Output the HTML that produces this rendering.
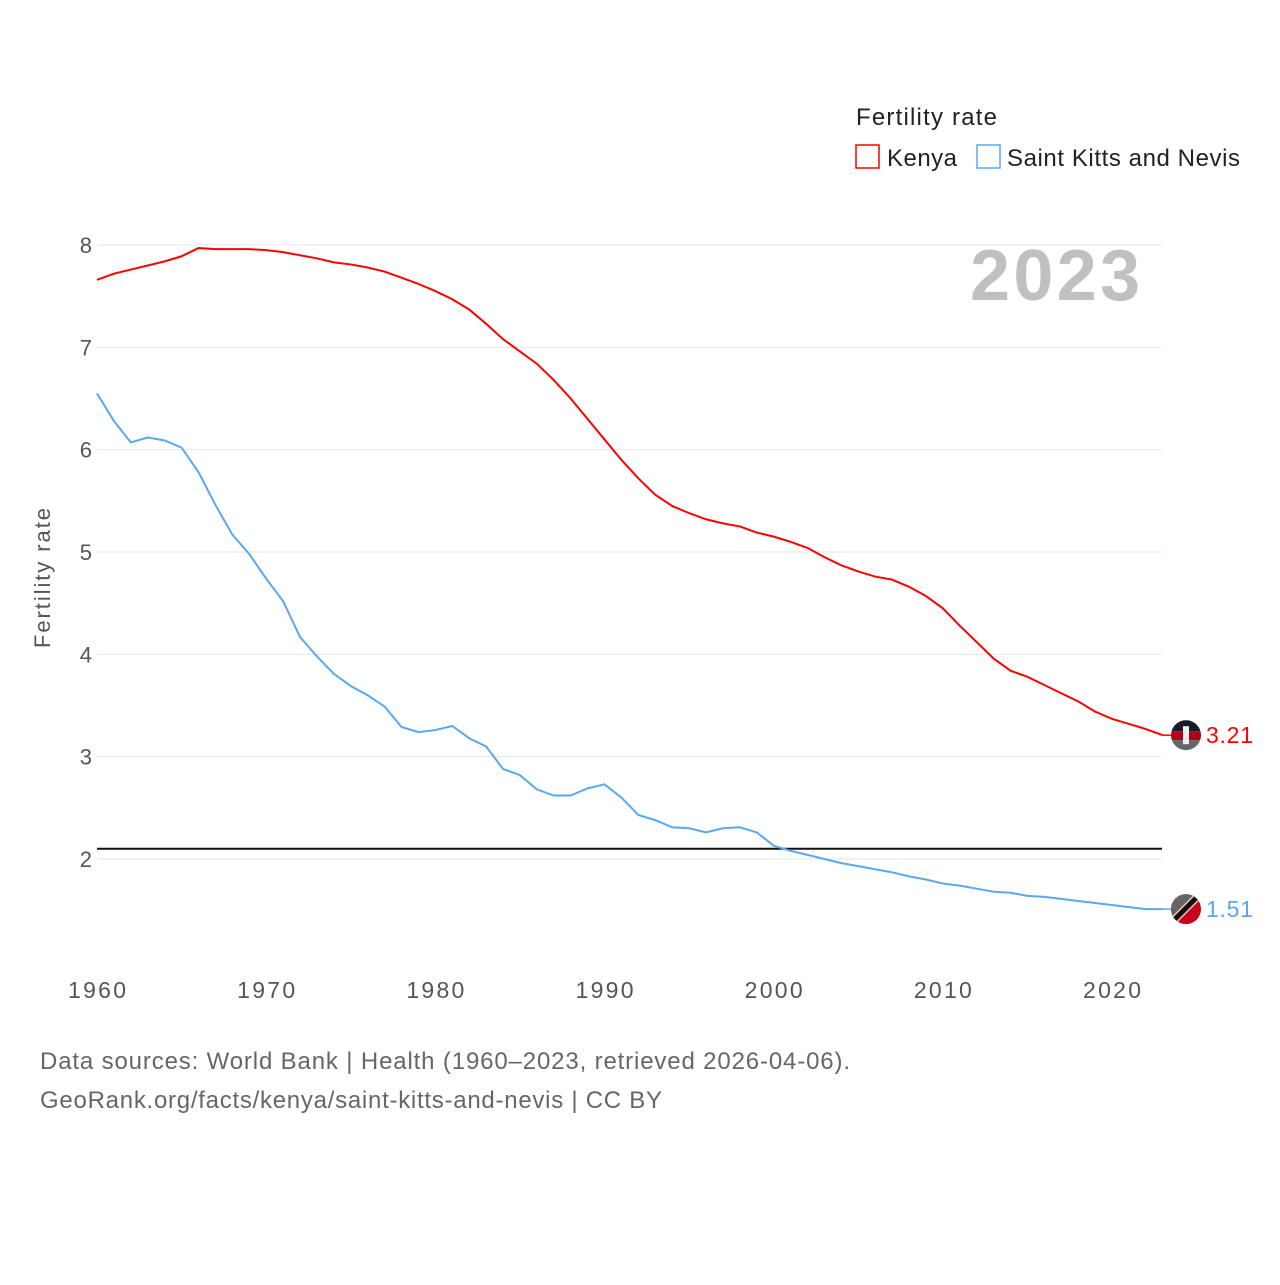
<!DOCTYPE html>
<html><head><meta charset="utf-8"><style>
body{margin:0;background:#fff;width:1280px;height:1280px;overflow:hidden;font-family:"Liberation Sans",sans-serif}
</style></head><body>
<svg id="chart" width="1280" height="1280" xmlns="http://www.w3.org/2000/svg" font-family="Liberation Sans, sans-serif">
<text x="856" y="125" font-size="24" fill="#222" textLength="141">Fertility rate</text>
<g><rect x="856" y="145" width="23" height="23" fill="none" stroke="#f00" stroke-width="1.5"/><text x="887" y="166" font-size="24" fill="#222" textLength="70">Kenya</text></g>
<g><rect x="977" y="145" width="23" height="23" fill="none" stroke="#5aa8f0" stroke-width="1.5"/><text x="1007" y="166" font-size="24" fill="#222" textLength="233">Saint Kitts and Nevis</text></g>
<text x="1140" y="300" font-size="72" font-weight="bold" fill="#c0c0c0" text-anchor="end" textLength="170">2023</text>
<text transform="translate(50,578) rotate(-90)" font-size="22" fill="#555" text-anchor="middle" textLength="140">Fertility rate</text>
<g id="grid"></g><g id="series"></g>
<text x="40" y="1069" font-size="24" fill="#666" textLength="810">Data sources: World Bank | Health (1960–2023, retrieved 2026-04-06).</text>
<text x="40" y="1108" font-size="24" fill="#666" textLength="622">GeoRank.org/facts/kenya/saint-kitts-and-nevis | CC BY</text>
</svg>
<script>
const years=[];for(let y=1960;y<=2023;y++)years.push(y);
const kenya=[7.66,7.72,7.76,7.80,7.84,7.89,7.97,7.96,7.96,7.96,7.95,7.93,7.90,7.87,7.83,7.81,7.78,7.74,7.68,7.62,7.55,7.47,7.37,7.23,7.08,6.96,6.84,6.68,6.50,6.30,6.10,5.90,5.72,5.56,5.45,5.38,5.32,5.28,5.25,5.19,5.15,5.10,5.04,4.95,4.87,4.81,4.76,4.73,4.66,4.57,4.45,4.28,4.12,3.96,3.84,3.78,3.70,3.62,3.54,3.44,3.37,3.32,3.27,3.21];
const skn=[6.55,6.28,6.07,6.12,6.09,6.02,5.78,5.46,5.17,4.98,4.74,4.52,4.17,3.98,3.81,3.69,3.60,3.49,3.29,3.24,3.26,3.30,3.18,3.10,2.88,2.82,2.68,2.62,2.62,2.69,2.73,2.60,2.43,2.38,2.31,2.30,2.26,2.30,2.31,2.26,2.13,2.08,2.04,2.00,1.96,1.93,1.90,1.87,1.83,1.80,1.76,1.74,1.71,1.68,1.67,1.64,1.63,1.61,1.59,1.57,1.55,1.53,1.51,1.51];
const yTicks=[2,3,4,5,6,7,8];
const xTicks=[1960,1970,1980,1990,2000,2010,2020];
const replacement=2.1;
const NS="http://www.w3.org/2000/svg";
const X=y=>97+(y-1960)*(1112-97)/60;
const Y=v=>859-(v-2)*(859-245)/6;
function mk(t,a,p){const e=document.createElementNS(NS,t);for(const k in a)e.setAttribute(k,a[k]);p.appendChild(e);return e;}
const grid=document.getElementById('grid'),ser=document.getElementById('series');
yTicks.forEach(v=>{
 const l=mk('line',{x1:97,x2:1162,y1:Y(v),y2:Y(v),stroke:'#e6e6e6'},grid);
 
 
 const t=mk('text',{x:92,y:Y(v)+8,'font-size':22,fill:'#555','text-anchor':'end'},grid);t.textContent=v;
 
 
});
xTicks.forEach(v=>{
 const t=mk('text',{x:X(v),y:998,'font-size':23,fill:'#555','text-anchor':'middle',textLength:58},grid);t.textContent=v;
 
 
});
const rl=mk('line',{x1:97,x2:1162,y1:Y(replacement),y2:Y(replacement),stroke:'#111','stroke-width':2},ser);


function line(d,c,name){
 const p=mk('polyline',{points:d.map((v,i)=>X(years[i])+','+Y(v)).join(' '),fill:'none',stroke:c,'stroke-width':2},ser);
 
 
 const last=d[d.length-1],ly=Y(last);
 mk('line',{x1:X(2023),x2:1176,y1:ly,y2:ly,stroke:c,'stroke-width':1.5},ser);
 const t=mk('text',{x:1206,y:ly+8,'font-size':23,fill:c,textLength:47},ser);t.textContent=last.toFixed(2);
 
 
 return ly;
}
const ky=line(kenya,'#f00','kenya-line');
const sy=line(skn,'#5aa8f0','saint-kitts-line');
let g=mk('g',{},ser);


mk('clipPath',{id:'c1'},g);mk('circle',{cx:1186,cy:ky,r:15},g.firstChild);
const gk=mk('g',{'clip-path':'url(#c1)'},g);
mk('rect',{x:1170,y:ky-15,width:32,height:11,fill:'#1a1a2a'},gk);
mk('rect',{x:1170,y:ky-4,width:32,height:9,fill:'#b0001a'},gk);
mk('rect',{x:1170,y:ky+5,width:32,height:11,fill:'#666'},gk);
mk('rect',{x:1183,y:ky-9,width:6,height:18,fill:'#eee'},gk);
g=mk('g',{},ser);


mk('clipPath',{id:'c2'},g);mk('circle',{cx:1186,cy:sy,r:15},g.firstChild);
const gs=mk('g',{'clip-path':'url(#c2)'},g);
mk('rect',{x:1170,y:sy-15,width:32,height:32,fill:'#c8001e'},gs);
mk('polygon',{points:`1170,${sy-15} 1202,${sy-15} 1170,${sy+17}`,fill:'#666'},gs);
mk('line',{x1:1202,y1:sy-17,x2:1170,y2:sy+15,stroke:'#f5c2b0','stroke-width':8},gs);
mk('line',{x1:1202,y1:sy-17,x2:1170,y2:sy+15,stroke:'#111','stroke-width':5},gs);
</script>
</body></html>
